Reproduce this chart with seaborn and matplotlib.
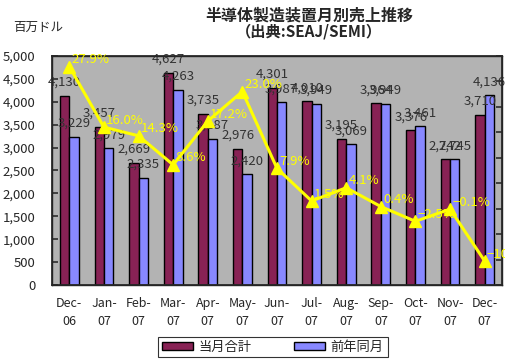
import pandas as pd
import numpy as np
import matplotlib
matplotlib.use("Agg")
import matplotlib.pyplot as plt
import matplotlib.patches as mpatches
from matplotlib.ticker import FixedLocator
import seaborn as sns

# Data
months = ["Dec-\n06", "Jan-\n07", "Feb-\n07", "Mar-\n07", "Apr-\n07", "May-\n07", "Jun-\n07",
          "Jul-\n07", "Aug-\n07", "Sep-\n07", "Oct-\n07", "Nov-\n07", "Dec-\n07"]
current = [4130, 3457, 2669, 4627, 3735, 2976, 4301, 4010, 3195, 3964, 3376, 2742, 3710]
previous = [3229, 2979, 2335, 4263, 3187, 2420, 3987, 3949, 3069, 3949, 3461, 2745, 4136]
growth = [27.9, 16.0, 14.3, 8.6, 17.2, 23.0, 7.9, 1.5, 4.1, 0.4, -2.5, -0.1, -10.3]
series_names = ["当月合計", "前年同月"]
colors = ["#882255", "#8888FF"]


def main():
    sns.set_theme(style="white")
    plt.rcParams['font.family'] = ['Noto Sans CJK JP', 'DejaVu Sans']

    df = pd.DataFrame({
        "month": months * 2,
        "value": current + previous,
        "series": [series_names[0]] * len(months) + [series_names[1]] * len(months),
    })

    fig = plt.figure(figsize=(5.05, 3.63), dpi=100)
    ax = fig.add_axes([0.103, 0.215, 0.891, 0.631])
    ax.set_facecolor("#b3b3b3")

    sns.barplot(data=df, x="month", y="value", hue="series", hue_order=series_names,
                palette=colors, width=0.54, edgecolor="black", linewidth=1.0,
                saturation=1, legend=False, ax=ax)

    # value labels above bars
    for cont in ax.containers:
        ax.bar_label(cont, labels=[f"{int(b.get_height()):,}" for b in cont],
                     padding=5, fontsize=9.5, color="#333333")

    ax.set_ylim(0, 5000)
    ax.set_xlim(-0.5, len(months) - 0.5)
    ax.set_yticks(np.arange(0, 5001, 500))
    ax.set_yticklabels([f"{v:,}" for v in range(0, 5001, 500)], fontsize=9.5)
    ax.set_xlabel("")
    ax.set_ylabel("")
    ax.tick_params(axis="y", direction="in", length=4, pad=12, color="#333333")
    ax.tick_params(axis="x", which="major", length=0, pad=9, labelsize=9)
    for lbl in ax.get_xticklabels():
        lbl.set_linespacing(1.5)
    ax.xaxis.set_minor_locator(FixedLocator(np.arange(0.5, len(months) - 1, 1)))
    ax.tick_params(axis="x", which="minor", direction="in", length=4, color="#333333")
    for s in ax.spines.values():
        s.set_color("#222222")
        s.set_linewidth(1.0)

    # growth rate on a hidden secondary axis
    ax2 = ax.twinx()
    x = np.arange(len(months))
    ax2.plot(x, growth, color="#ffff00", linewidth=2.2, marker="^", markersize=8,
             markeredgecolor="#ffff00")
    ax2.set_ylim(-15, 30)
    ax2.set_yticks(np.arange(-15, 31, 5))
    ax2.tick_params(axis="y", direction="in", length=4, labelright=False, color="#333333")
    for xi, g in zip(x, growth):
        ax2.annotate(f"{g:.1f}%".replace("-", "\u2212"), (xi, g), xytext=(1.5, 5),
                     textcoords="offset points", ha="left", va="center", fontsize=9.5,
                     color="#ffff00", annotation_clip=False)

    fig.text(0.612, 0.958, "半導体製造装置月別売上推移", ha="center", va="center",
             fontsize=11.5, fontweight="bold")
    fig.text(0.612, 0.912, "（出典:SEAJ/SEMI）", ha="center", va="center",
             fontsize=11, fontweight="bold")
    fig.text(0.075, 0.925, "百万ドル", ha="center", va="center", fontsize=9)

    handles = [mpatches.Patch(facecolor=c, edgecolor="black", label=n)
               for c, n in zip(colors, series_names)]
    leg = fig.legend(handles=handles, loc="center", bbox_to_anchor=(0.54, 0.044), ncol=2,
                     fontsize=9.5, frameon=True, fancybox=False, edgecolor="black",
                     handlelength=2.4, handleheight=0.55, columnspacing=3.2,
                     borderpad=0.3, handletextpad=0.4, borderaxespad=0)
    leg.get_frame().set_linewidth(0.8)

    fig.savefig("out.png", dpi=100)


if __name__ == "__main__":
    main()
